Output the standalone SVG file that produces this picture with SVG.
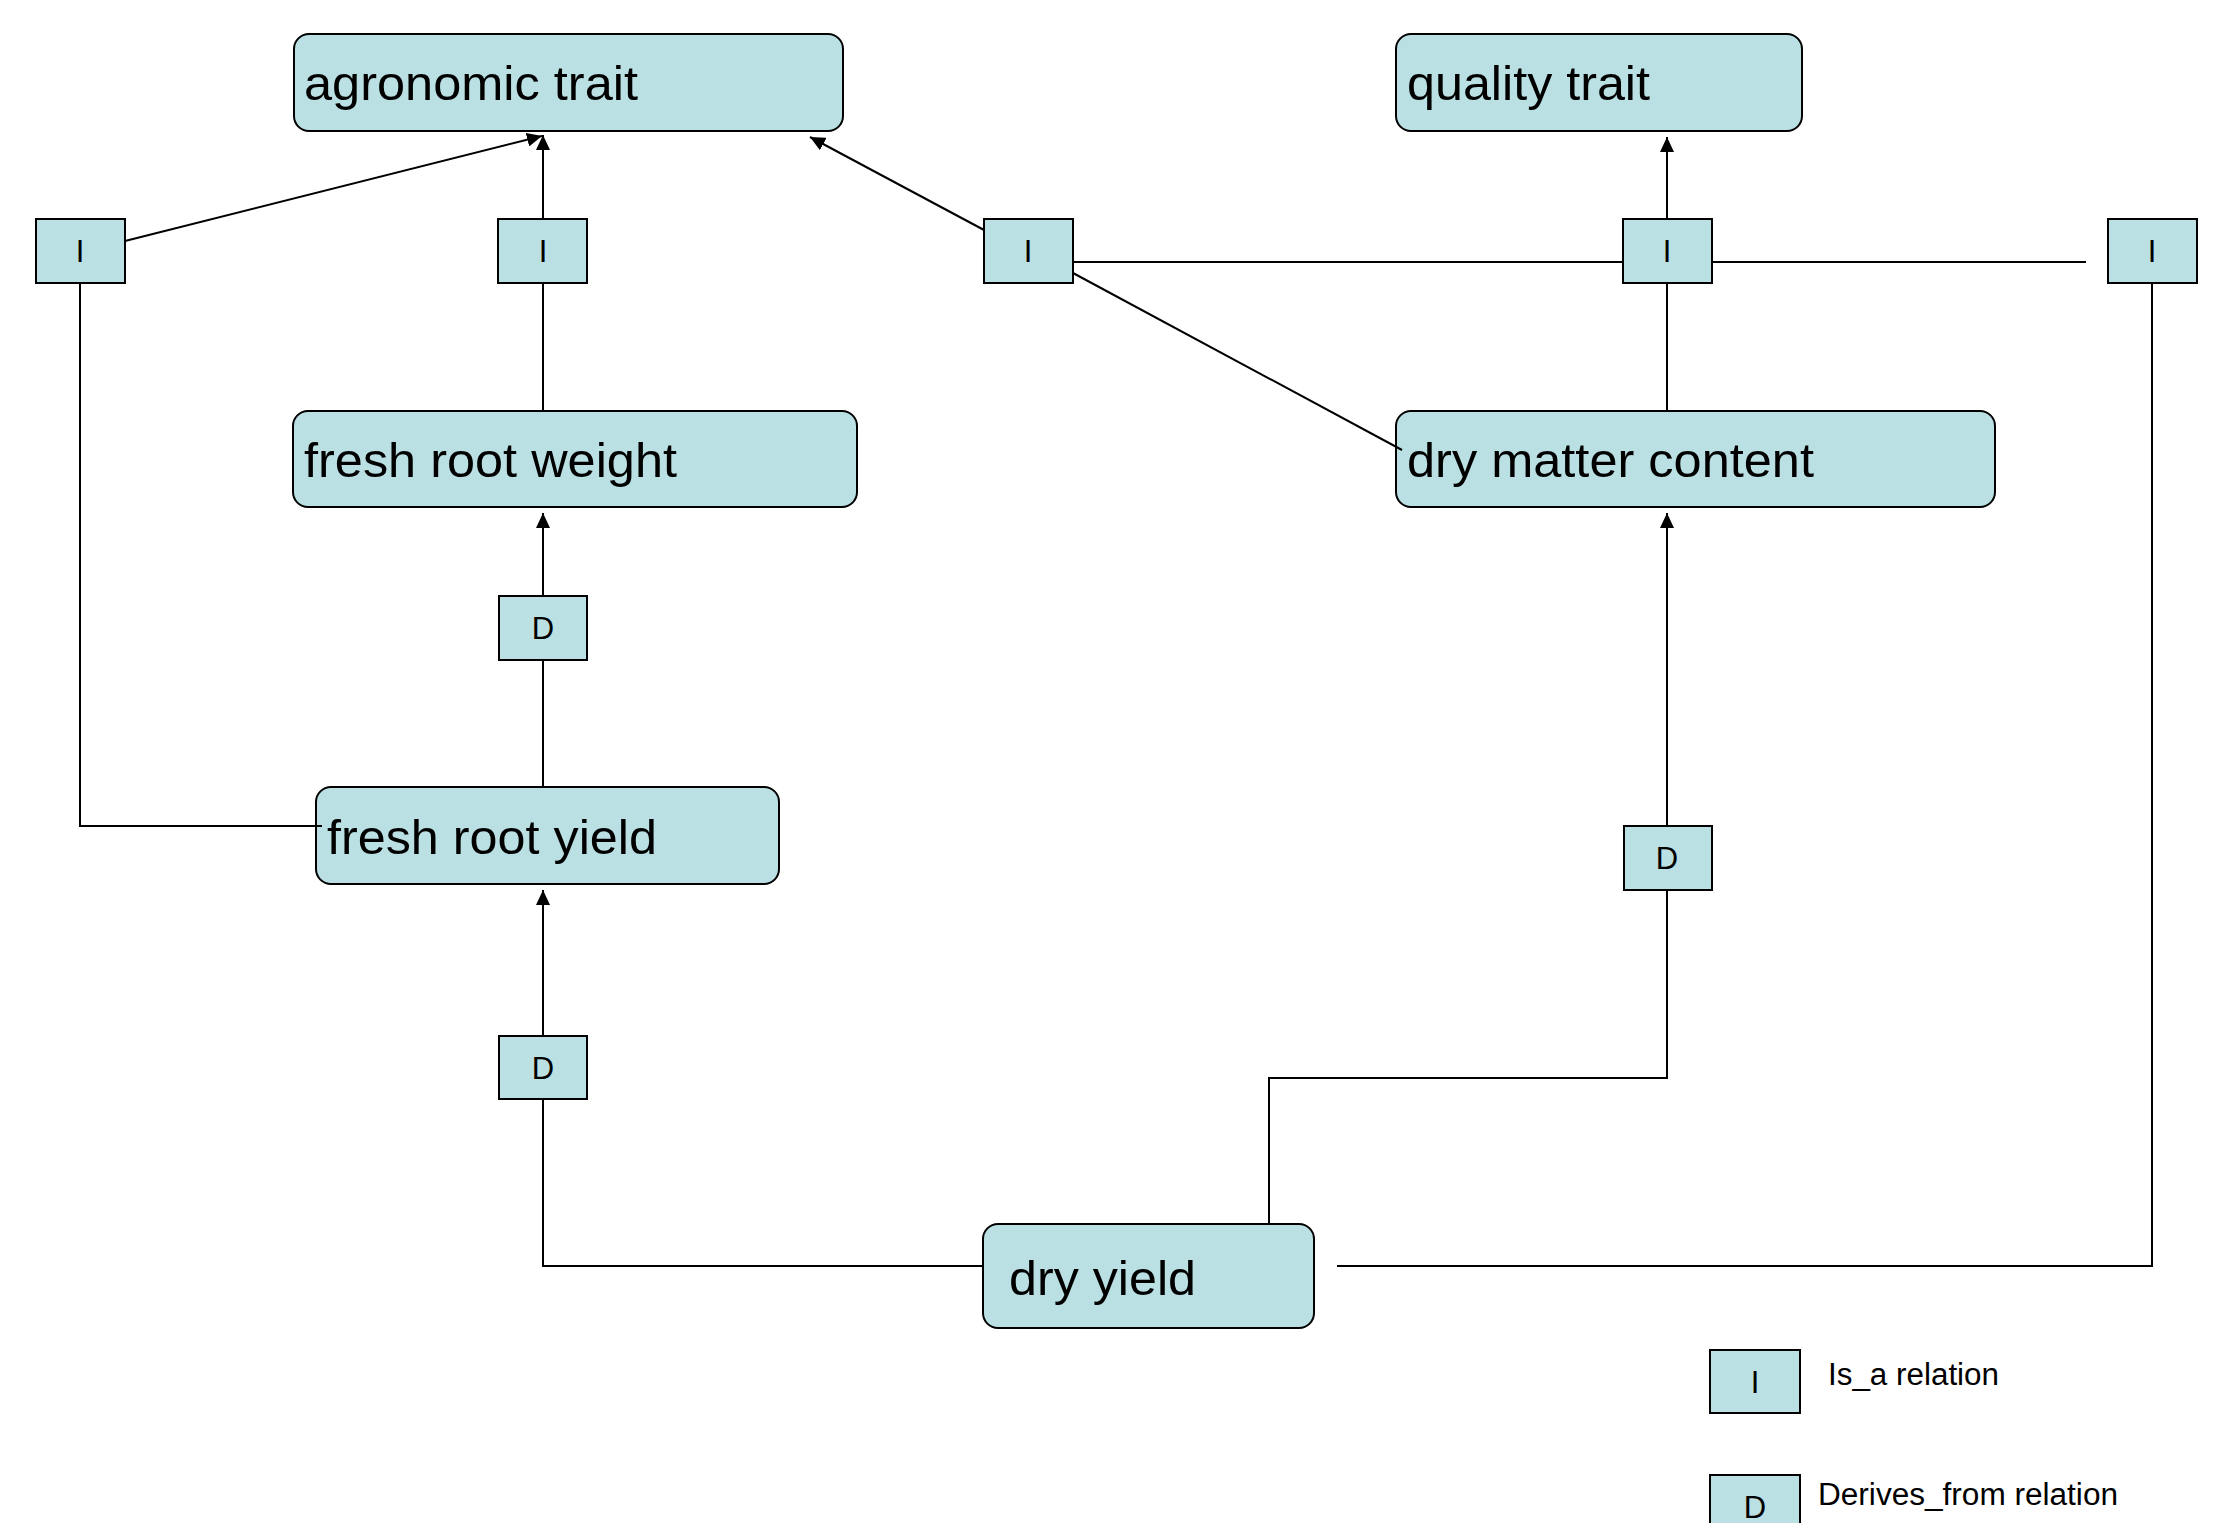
<svg xmlns="http://www.w3.org/2000/svg" width="2224" height="1523" viewBox="0 0 2224 1523">
<defs>
<style>
.node{fill:#bbe0e3;stroke:#000;stroke-width:2}
.rel{fill:#bbe0e3;stroke:#000;stroke-width:2}
.lbl{font-family:"Liberation Sans",Arial,sans-serif;font-size:49px;fill:#000}
.rl{font-family:"Liberation Sans",Arial,sans-serif;font-size:31px;fill:#000;text-anchor:middle}
.lg{font-family:"Liberation Sans",Arial,sans-serif;font-size:31px;fill:#000}
.c{fill:none;stroke:#000;stroke-width:2}
</style>
<marker id="ah" viewBox="0 0 15 14" refX="15" refY="7" markerWidth="15" markerHeight="14" markerUnits="userSpaceOnUse" orient="auto">
<path d="M0,0 L15,7 L0,14 Z" fill="#000"/>
</marker>
</defs>
<rect width="2224" height="1523" fill="#fff"/>
<g id="n-agronomic">
<rect class="node" x="294" y="34" width="549" height="97" rx="15"/>
<text class="lbl" x="304" y="100" textLength="334" lengthAdjust="spacingAndGlyphs">agronomic trait</text>
</g>
<g id="n-quality">
<rect class="node" x="1396" y="34" width="406" height="97" rx="15"/>
<text class="lbl" x="1407" y="100" textLength="243" lengthAdjust="spacingAndGlyphs">quality trait</text>
</g>
<g id="n-frw">
<rect class="node" x="293" y="411" width="564" height="96" rx="15"/>
<text class="lbl" x="304" y="477" textLength="373" lengthAdjust="spacingAndGlyphs">fresh root weight</text>
</g>
<g id="n-dmc">
<rect class="node" x="1396" y="411" width="599" height="96" rx="15"/>
<text class="lbl" x="1407" y="477" textLength="407" lengthAdjust="spacingAndGlyphs">dry matter content</text>
</g>
<g id="n-fry">
<rect class="node" x="316" y="787" width="463" height="97" rx="15"/>
<text class="lbl" x="327" y="854" textLength="330" lengthAdjust="spacingAndGlyphs">fresh root yield</text>
</g>
<g id="n-dy">
<rect class="node" x="983" y="1224" width="331" height="104" rx="15"/>
<text class="lbl" x="1009" y="1295" textLength="187" lengthAdjust="spacingAndGlyphs">dry yield</text>
</g>
<g id="r-i1"><rect class="rel" x="36" y="219" width="89" height="64"/><text class="rl" x="80" y="262">I</text></g>
<g id="r-i2"><rect class="rel" x="498" y="219" width="89" height="64"/><text class="rl" x="543" y="262">I</text></g>
<g id="r-i3"><rect class="rel" x="984" y="219" width="89" height="64"/><text class="rl" x="1028" y="262">I</text></g>
<g id="r-i4"><rect class="rel" x="1623" y="219" width="89" height="64"/><text class="rl" x="1667" y="262">I</text></g>
<g id="r-i5"><rect class="rel" x="2108" y="219" width="89" height="64"/><text class="rl" x="2152" y="262">I</text></g>
<g id="r-d1"><rect class="rel" x="499" y="596" width="88" height="64"/><text class="rl" x="543" y="639">D</text></g>
<g id="r-d2"><rect class="rel" x="1624" y="826" width="88" height="64"/><text class="rl" x="1667" y="869">D</text></g>
<g id="r-d3"><rect class="rel" x="499" y="1036" width="88" height="63"/><text class="rl" x="543" y="1079">D</text></g>
<g id="connectors">
<line class="c" x1="125" y1="241" x2="542" y2="136" marker-end="url(#ah)"/>
<line class="c" x1="543" y1="219" x2="543" y2="135" marker-end="url(#ah)"/>
<line class="c" x1="543" y1="283" x2="543" y2="411"/>
<path class="c" d="M80 283 V826 H322"/>
<line class="c" x1="984" y1="230" x2="810" y2="137" marker-end="url(#ah)"/>
<line class="c" x1="1073" y1="273" x2="1402" y2="450"/>
<line class="c" x1="1073" y1="262" x2="1623" y2="262"/>
<line class="c" x1="1712" y1="262" x2="2086" y2="262"/>
<line class="c" x1="1667" y1="219" x2="1667" y2="137" marker-end="url(#ah)"/>
<line class="c" x1="1667" y1="283" x2="1667" y2="411"/>
<path class="c" d="M2152 283 V1266 H1337"/>
<line class="c" x1="1667" y1="826" x2="1667" y2="513" marker-end="url(#ah)"/>
<path class="c" d="M1269 1224 V1078 H1667 V890"/>
<path class="c" d="M983 1266 H543 V1099"/>
<line class="c" x1="543" y1="1036" x2="543" y2="890" marker-end="url(#ah)"/>
<line class="c" x1="543" y1="787" x2="543" y2="660"/>
<line class="c" x1="543" y1="596" x2="543" y2="513" marker-end="url(#ah)"/>
</g>
<g id="legend">
<rect class="rel" x="1710" y="1350" width="90" height="63" stroke-width="3"/>
<text class="rl" x="1755" y="1393">I</text>
<text class="lg" x="1828" y="1385" textLength="171" lengthAdjust="spacingAndGlyphs">Is_a relation</text>
<rect class="rel" x="1710" y="1475" width="90" height="63" stroke-width="3"/>
<text class="rl" x="1755" y="1518">D</text>
<text class="lg" x="1818" y="1505" textLength="300" lengthAdjust="spacingAndGlyphs">Derives_from relation</text>
</g>
</svg>
